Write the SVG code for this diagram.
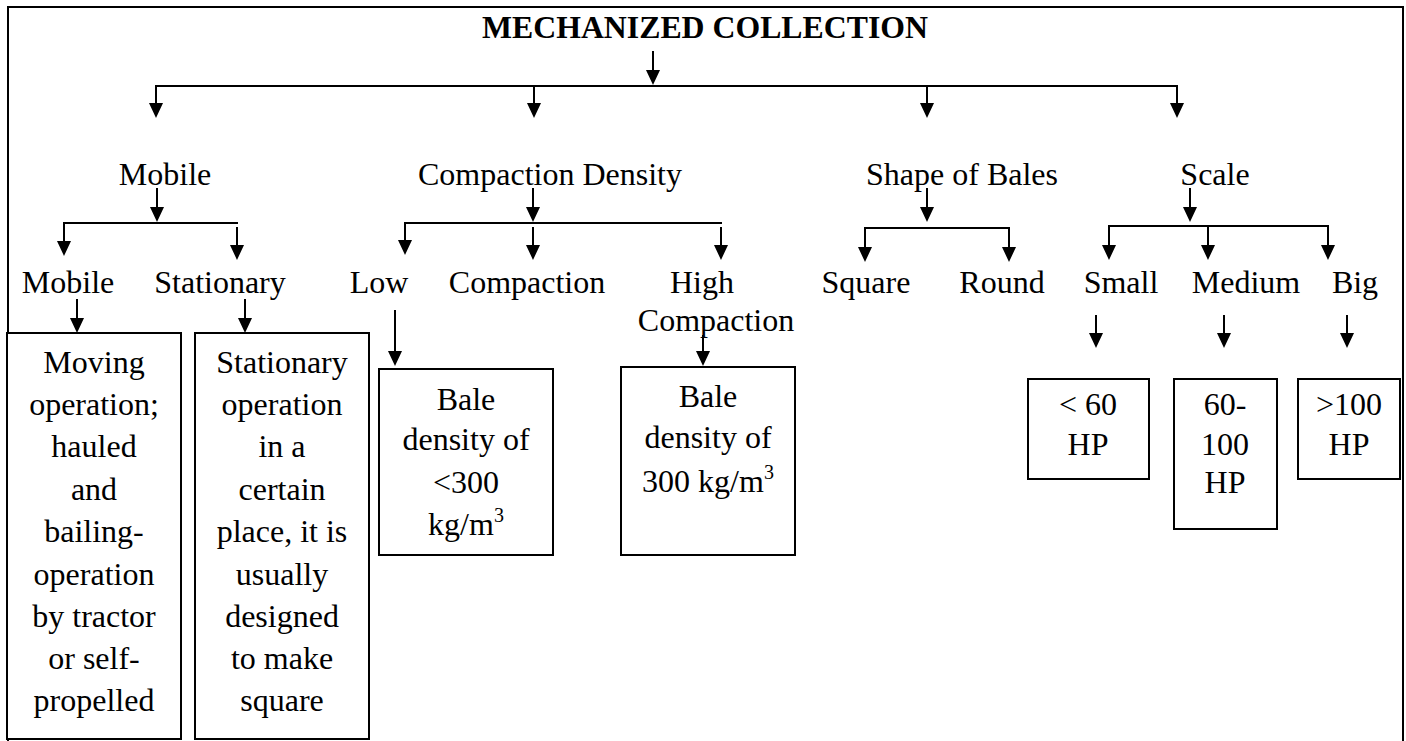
<svg xmlns="http://www.w3.org/2000/svg" width="1406" height="741" viewBox="0 0 1406 741">
<defs>
<marker id="ah" viewBox="0 0 15 14" refX="5" refY="7" markerWidth="15" markerHeight="14" markerUnits="userSpaceOnUse" orient="auto">
<path d="M0,0 L15,7 L0,14 z" fill="#000"/>
</marker>
</defs>
<style>
text{font-family:"Liberation Serif","Times New Roman",serif;font-size:32px;fill:#000;text-anchor:middle}
.title{font-weight:bold;font-size:31px}
.sup{font-size:20px}
.c{stroke:#000;stroke-width:2;fill:none}
.a{stroke:#000;stroke-width:2;fill:none;marker-end:url(#ah)}
.box{stroke:#000;stroke-width:2;fill:#fff}
</style>
<rect width="1406" height="741" fill="#fff"/>
<path d="M8,741 L8,7 L1403,7 L1403,741" class="c" stroke-width="2.5"/>

<g id="connectors">
<line class="a" x1="653" y1="51" x2="653" y2="75"/>
<line class="c" x1="155" y1="86" x2="1178" y2="86"/>
<line class="a" x1="156" y1="86" x2="156" y2="108"/>
<line class="a" x1="534" y1="86" x2="534" y2="108"/>
<line class="a" x1="927" y1="86" x2="927" y2="108"/>
<line class="a" x1="1177" y1="86" x2="1177" y2="108"/>

<line class="a" x1="157" y1="188" x2="157" y2="212"/>
<line class="c" x1="63" y1="223" x2="238" y2="223"/>
<line class="a" x1="64" y1="223" x2="64" y2="246"/>
<line class="a" x1="237" y1="227" x2="237" y2="250"/>
<line class="a" x1="77" y1="299" x2="77" y2="323"/>
<line class="a" x1="245" y1="299" x2="245" y2="323"/>

<line class="a" x1="533" y1="188" x2="533" y2="212"/>
<line class="c" x1="404" y1="223" x2="722" y2="223"/>
<line class="a" x1="405" y1="223" x2="405" y2="245"/>
<line class="a" x1="533" y1="227" x2="533" y2="250"/>
<line class="a" x1="721" y1="227" x2="721" y2="250"/>
<line class="a" x1="395" y1="310" x2="395" y2="356"/>
<line class="a" x1="703" y1="335" x2="703" y2="356"/>

<line class="a" x1="927" y1="188" x2="927" y2="212"/>
<line class="c" x1="864" y1="228" x2="1010" y2="228"/>
<line class="a" x1="865" y1="228" x2="865" y2="252"/>
<line class="a" x1="1009" y1="228" x2="1009" y2="252"/>

<line class="a" x1="1190" y1="188" x2="1190" y2="212"/>
<line class="c" x1="1108" y1="226" x2="1329" y2="226"/>
<line class="a" x1="1109" y1="226" x2="1109" y2="250"/>
<line class="a" x1="1208" y1="226" x2="1208" y2="250"/>
<line class="a" x1="1328" y1="226" x2="1328" y2="250"/>
<line class="a" x1="1096" y1="315" x2="1096" y2="338"/>
<line class="a" x1="1224" y1="315" x2="1224" y2="338"/>
<line class="a" x1="1347" y1="315" x2="1347" y2="338"/>
</g>

<g id="title"><text class="title" x="705" y="38" textLength="446" lengthAdjust="spacingAndGlyphs">MECHANIZED COLLECTION</text></g>

<g id="mobile"><text x="165" y="185">Mobile</text></g>
<g id="compaction-density"><text x="550" y="185">Compaction Density</text></g>
<g id="shape-of-bales"><text x="962" y="185">Shape of Bales</text></g>
<g id="scale"><text x="1215" y="185">Scale</text></g>

<g id="mobile-sub"><text x="68" y="293">Mobile</text></g>
<g id="stationary"><text x="220" y="293">Stationary</text></g>
<g id="low"><text x="379" y="293">Low</text></g>
<g id="compaction"><text x="527" y="293">Compaction</text></g>
<g id="high-compaction"><text x="702" y="293">High</text><text x="716" y="331">Compaction</text></g>
<g id="square"><text x="866" y="293">Square</text></g>
<g id="round"><text x="1002" y="293">Round</text></g>
<g id="small"><text x="1121" y="293">Small</text></g>
<g id="medium"><text x="1246" y="293">Medium</text></g>
<g id="big"><text x="1355" y="293">Big</text></g>

<g id="box-moving">
<rect class="box" x="7" y="333" width="174" height="406"/>
<text x="94" y="373">Moving</text>
<text x="94" y="415">operation;</text>
<text x="94" y="457">hauled</text>
<text x="94" y="500">and</text>
<text x="94" y="542">bailing-</text>
<text x="94" y="585">operation</text>
<text x="94" y="627">by tractor</text>
<text x="94" y="669">or self-</text>
<text x="94" y="711">propelled</text>
</g>

<g id="box-stationary">
<rect class="box" x="195" y="333" width="174" height="406"/>
<text x="282" y="373">Stationary</text>
<text x="282" y="415">operation</text>
<text x="282" y="457">in a</text>
<text x="282" y="500">certain</text>
<text x="282" y="542">place, it is</text>
<text x="282" y="585">usually</text>
<text x="282" y="627">designed</text>
<text x="282" y="669">to make</text>
<text x="282" y="711">square</text>
</g>

<g id="box-low">
<rect class="box" x="379" y="369" width="174" height="186"/>
<text x="466" y="410">Bale</text>
<text x="466" y="450">density of</text>
<text x="466" y="493">&lt;300</text>
<text x="466" y="535">kg/m<tspan class="sup" dy="-13">3</tspan></text>
</g>

<g id="box-high">
<rect class="box" x="621" y="367" width="174" height="188"/>
<text x="708" y="407">Bale</text>
<text x="708" y="448">density of</text>
<text x="708" y="492">300 kg/m<tspan class="sup" dy="-13">3</tspan></text>
</g>

<g id="box-small">
<rect class="box" x="1028" y="379" width="121" height="100"/>
<text x="1088" y="415">&lt; 60</text>
<text x="1088" y="455">HP</text>
</g>

<g id="box-medium">
<rect class="box" x="1174" y="379" width="103" height="150"/>
<text x="1225" y="415">60-</text>
<text x="1225" y="455">100</text>
<text x="1225" y="493">HP</text>
</g>

<g id="box-big">
<rect class="box" x="1298" y="379" width="102" height="100"/>
<text x="1349" y="415">&gt;100</text>
<text x="1349" y="455">HP</text>
</g>
</svg>
